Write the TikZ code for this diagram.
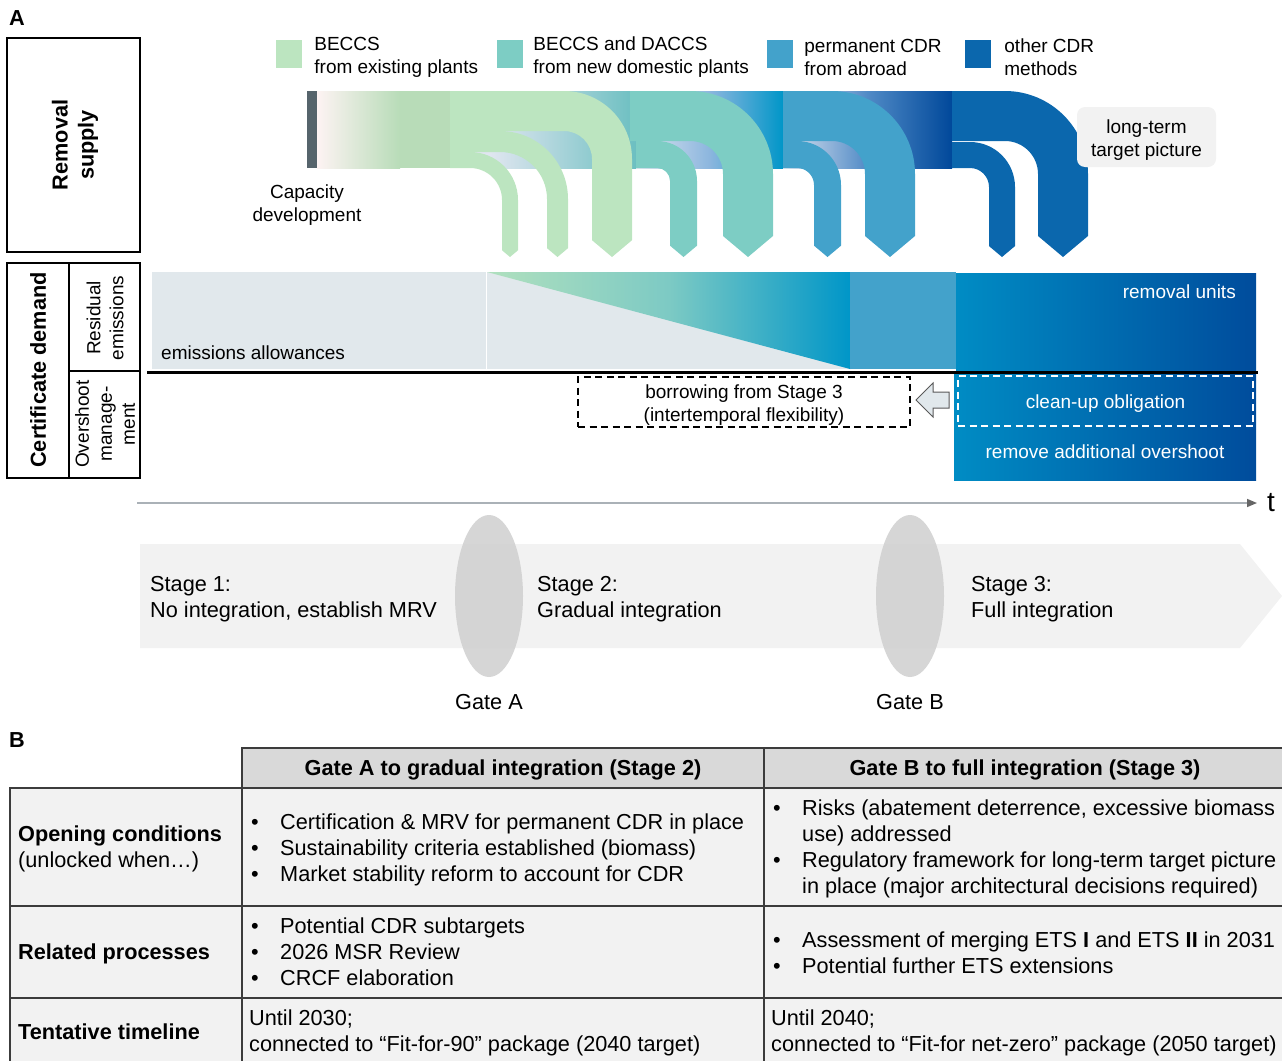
\documentclass[tikz,border=0pt]{standalone}
\usepackage{fontspec}
\setmainfont{Liberation Sans}
\usetikzlibrary{arrows.meta, positioning, shapes.geometric}

\definecolor{cgreen}{RGB}{188,229,192}
\definecolor{cgreendk}{RGB}{184,220,184}
\definecolor{cpink}{RGB}{253,243,243}
\definecolor{cteal}{RGB}{125,205,196}
\definecolor{ctealdk}{RGB}{108,191,193}
\definecolor{cblue}{RGB}{67,162,203}
\definecolor{cbright}{RGB}{0,150,200}
\definecolor{cnavy}{RGB}{11,103,173}
\definecolor{cdeep}{RGB}{0,72,154}
\definecolor{cpale}{RGB}{225,232,236}
\definecolor{cpalebl}{RGB}{224,230,240}
\definecolor{cslate}{RGB}{86,100,108}
\definecolor{cgrey}{RGB}{242,242,242}
\definecolor{chead}{RGB}{217,217,217}
\definecolor{cline}{RGB}{60,60,60}
\definecolor{caxis}{RGB}{170,177,183}

\newcommand{\fbig}{\fontsize{21.7}{26}\selectfont}
\newcommand{\fsmall}{\fontsize{19}{23}\selectfont}
\newcommand{\bul}{\textbullet}

% bent supply band: start x, top y, centre x, outer radius, inner radius, colour
\newcommand{\flowband}[6]{%
  \fill[#6] (#1,#2) -- (#3,#2) arc[start angle=270, end angle=360, radius=#4]
    -- ({#3+#4},{257-0.42*(#4-#5)}) -- ({#3+(#4+#5)/2},257)
    -- ({#3+#5},{257-0.42*(#4-#5)}) -- ({#3+#5},{#2+#4})
    arc[start angle=360, end angle=270, radius=#5] -- (#1,{#2+#4-#5}) -- cycle;}

\tikzset{
  lbl/.style={inner sep=0pt, font=\fsmall},
  lblbig/.style={inner sep=0pt, font=\fbig},
  cell/.style={draw=cline, line width=1.5pt, fill=cgrey},
  swatch/.style={minimum width=26pt, minimum height=28pt, inner sep=0pt},
  dashbox/.style={line width=1.5pt, dash pattern=on 7pt off 4.5pt},
}

\begin{document}
\begin{tikzpicture}[x=1pt, y=-1pt]
	\useasboundingbox (0,0) rectangle (1282,1060);

	% panel A, side labels
	\node[lblbig, font=\fbig\bfseries] (labA) at (17,18) {A};
	\draw[line width=1.2pt] (7,38) rectangle (140,252);
	\node[lblbig, font=\fbig\bfseries, rotate=90, align=center] (supply) at (75,145) {Removal\\supply};
	\draw[line width=1.2pt] (7,263) rectangle (140,478);
	\draw[line width=1.2pt] (69,263) -- (69,478);
	\draw[line width=1.2pt] (69,371) -- (140,371);
	\node[lblbig, font=\fbig\bfseries, rotate=90] (demand) at (38,370) {Certificate demand};
	\node[lbl, rotate=90, align=center] (resid) at (105,318) {Residual\\emissions};
	\node[lbl, rotate=90, align=center] (oversh) at (105,424) {Overshoot\\manage-\\ment};

	% legend
	\node[swatch, fill=cgreen] (swA) at (289,54) {};
	\node[swatch, fill=cteal] (swB) at (510,54) {};
	\node[swatch, fill=cblue] (swC) at (780,54) {};
	\node[swatch, fill=cnavy] (swD) at (978,54) {};
	\node[lbl, align=left, right=12pt of swA, yshift=-3pt] (legA) {BECCS\\from existing plants};
	\node[lbl, align=left, right=10pt of swB, yshift=-3pt] (legB) {BECCS and DACCS\\from new domestic plants};
	\node[lbl, align=left, right=11pt of swC, yshift=-3pt] (legC) {permanent CDR\\from abroad};
	\node[lbl, align=left, right=13pt of swD, yshift=-3pt] (legD) {other CDR\\methods};

	% capacity bar behind the bands
	\fill[cslate] (307,91) rectangle (317,168);
	\shade[left color=cpink, right color=cgreendk] (317,91) rectangle (400,168);
	\fill[cgreendk] (400,91) rectangle (452,168);
	\fill[cpalebl] (452,91) rectangle (490,168);
	\shade[left color=cpalebl, right color=ctealdk] (490,91) rectangle (636,168);
	\shade[left color=cpalebl, right color=cbright, middle color={rgb,255:red,140;green,182;blue,222}] (636,91) rectangle (783,168);
	\shade[left color=cpalebl, right color=cdeep, middle color={rgb,255:red,80;green,138;blue,198}] (783,91) rectangle (952,168);

	\flowband{636}{141}{657}{40}{13}{cteal}
	\flowband{630}{91}{690}{83}{33}{cteal}
	\flowband{783}{141}{797}{44}{17}{cblue}
	\flowband{783}{91}{832}{83}{33}{cblue}
	\flowband{952}{142}{970}{45}{19}{cnavy}
	\flowband{952}{91}{1005}{83}{33}{cnavy}
	\flowband{450}{152}{470}{48}{32}{cgreen}
	\flowband{450}{131}{500}{68}{47}{cgreen}
	\flowband{450}{91}{564}{68}{28}{cgreen}

	\node[lbl, align=center] (capdev) at (307,205.5) {Capacity\\development};
	\node[fill=cgrey, rounded corners=8pt, minimum width=139pt, minimum height=60pt] (target) at (1146.5,137) {};
	\node[lbl, align=center] (targettxt) at (1146.5,140.5) {long-term\\target picture};

	% certificate demand
	\fill[cpale] (152,272) rectangle (486,369);
	\fill[cpale] (487,272) rectangle (850,369);
	\shade[left color={rgb,255:red,176;green,224;blue,190}, right color=cbright, middle color={rgb,255:red,125;green,202;blue,196}] (487,272) -- (850,272) -- (850,369) -- cycle;
	\fill[cblue] (850,272) rectangle (956,369);
	\shade[left color={rgb,255:red,0;green,140;blue,196}, right color={rgb,255:red,0;green,76;blue,156}] (956,273) rectangle (1256,370);
	\shade[left color={rgb,255:red,0;green,140;blue,196}, right color={rgb,255:red,0;green,76;blue,156}] (954,374) rectangle (1256,480);
	\draw[line width=3pt] (147,372) -- (1258,372);
	\node[lbl, anchor=west] (allow) at (161,353) {emissions allowances};
	\node[lbl, anchor=east, text=white] (runits) at (1236,292) {removal units};
	\node[dashbox, draw=white, minimum width=295pt, minimum height=50pt] (cleanup) at (1105.5,401) {};
	\node[lbl, text=white] (cleanuptxt) at (1105.5,404) {clean-up obligation};
	\node[lbl, text=white] (removeos) at (1105,452) {remove additional overshoot};
	\node[dashbox, draw, minimum width=332pt, minimum height=50pt] (borrow) at (744,402) {};
	\node[lbl, align=center] (borrowtxt) at (744,405) {borrowing from Stage 3\\(intertemporal flexibility)};
	\filldraw[fill=cpale, draw=black!65, line width=1pt] (916,400) -- (933,383) -- (933,392) -- (949,392) -- (949,408) -- (933,408) -- (933,417) -- cycle;

	% time axis
	\coordinate (t0) at (137,503);
	\coordinate (t1) at (1257,503);
	\draw[caxis, line width=1.5pt, -{Triangle[length=10pt, width=8pt, color=black!60]}] (t0) -- (t1);
	\node[inner sep=0pt, font=\fontsize{28}{30}\selectfont, right=10pt of t1] (tlab) {t};

	% stages and gates
	\fill[cgrey] (140,544) -- (1240,544) -- (1282,596) -- (1240,648) -- (140,648) -- cycle;
	\node[ellipse, inner sep=0pt, minimum width=68pt, minimum height=162pt, fill=black!19, fill opacity=0.85] (gateA) at (489,596) {};
	\node[ellipse, inner sep=0pt, minimum width=68pt, minimum height=162pt, fill=black!19, fill opacity=0.85] (gateB) at (910,596) {};
	\node[lblbig, below=17pt of gateA] (gateAlab) {Gate A};
	\node[lblbig, below=17pt of gateB] (gateBlab) {Gate B};
	\node[lblbig, align=left, anchor=west] (stage1) at (150,599) {Stage 1:\\No integration, establish MRV};
	\node[lblbig, align=left, anchor=west] (stage2) at (537,599) {Stage 2:\\Gradual integration};
	\node[lblbig, align=left, anchor=west] (stage3) at (971,599) {Stage 3:\\Full integration};

	% panel B, table
	\node[lblbig, font=\fbig\bfseries] (labB) at (17,740) {B};
	\filldraw[cell, fill=chead] (242,748) rectangle (764,788);
	\filldraw[cell, fill=chead] (764,748) rectangle (1292,788);
	\foreach \ya/\yb in {788/906, 906/998, 998/1070} {
		\filldraw[cell] (10,\ya) rectangle (242,\yb);
		\filldraw[cell] (242,\ya) rectangle (764,\yb);
		\filldraw[cell] (764,\ya) rectangle (1292,\yb);
	}
	\node[lblbig, font=\fbig\bfseries] (headA) at (503,770) {Gate A to gradual integration (Stage 2)};
	\node[lblbig, font=\fbig\bfseries] (headB) at (1025,770) {Gate B to full integration (Stage 3)};

	\node[lblbig, align=left, anchor=west] (opening) at (18,848.5) {\textbf{Opening conditions}\\(unlocked when…)};
	\node[lblbig, anchor=west] (openA) at (251,850) {\begin{tabular}{@{}p{29pt}@{}l@{}}\bul & Certification \& MRV for permanent CDR in place\\ \bul & Sustainability criteria established (biomass)\\ \bul & Market stability reform to account for CDR\end{tabular}};
	\node[lblbig, anchor=west] (openB) at (773,849.5) {\begin{tabular}{@{}p{29pt}@{}l@{}}\bul & Risks (abatement deterrence, excessive biomass\\ & use) addressed\\ \bul & Regulatory framework for long-term target picture\\ & in place (major architectural decisions required)\end{tabular}};

	\node[lblbig, font=\fbig\bfseries, anchor=west] (related) at (18,954) {Related processes};
	\node[lblbig, anchor=west] (relA) at (251,954) {\begin{tabular}{@{}p{29pt}@{}l@{}}\bul & Potential CDR subtargets\\ \bul & 2026 MSR Review\\ \bul & CRCF elaboration\end{tabular}};
	\node[lblbig, anchor=west] (relB) at (773,955) {\begin{tabular}{@{}p{29pt}@{}l@{}}\bul & Assessment of merging ETS \textbf{I} and ETS \textbf{II} in 2031\\ \bul & Potential further ETS extensions\end{tabular}};

	\node[lblbig, font=\fbig\bfseries, anchor=west] (timeline) at (18,1032) {Tentative timeline};
	\node[lblbig, align=left, anchor=west] (timeA) at (249,1033) {Until 2030;\\connected to “Fit-for-90” package (2040 target)};
	\node[lblbig, align=left, anchor=west] (timeB) at (771,1033) {Until 2040;\\connected to “Fit-for net-zero” package (2050 target)};
\end{tikzpicture}
\end{document}
